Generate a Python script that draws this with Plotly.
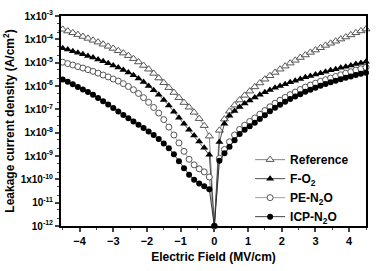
import plotly.graph_objects as go
import numpy as np

field = [-4.5, -4.35, -4.2, -4.05, -3.9, -3.75, -3.6, -3.45, -3.3, -3.15, -3.0, -2.85, -2.7, -2.55, -2.4,
         -2.25, -2.1, -1.95, -1.8, -1.65, -1.5, -1.35, -1.2, -1.05, -0.9, -0.75, -0.6, -0.45, -0.3, -0.15, 0.0,
         0.15, 0.3, 0.45, 0.6, 0.75, 0.9, 1.05, 1.2, 1.35, 1.5, 1.65, 1.8, 1.95, 2.1, 2.25, 2.4, 2.55, 2.7,
         2.85, 3.0, 3.15, 3.3, 3.45, 3.6, 3.75, 3.9, 4.05, 4.2, 4.35, 4.5]

# log10 of leakage current density (A/cm^2)
ref_log = [-3.57, -3.645, -3.72, -3.80, -3.88, -3.96, -4.04, -4.12, -4.21, -4.30, -4.39, -4.49, -4.59, -4.70, -4.83,
           -4.97, -5.12, -5.28, -5.46, -5.66, -5.86, -6.07, -6.28, -6.50, -6.71, -6.91, -7.13, -7.40, -7.70, -8.15, -12.0,
           -7.90, -7.42, -7.08, -6.82, -6.60, -6.40, -6.22, -6.04, -5.87, -5.71, -5.56, -5.42, -5.28, -5.15, -5.02,
           -4.90, -4.78, -4.67, -4.56, -4.46, -4.36, -4.26, -4.17, -4.08, -3.99, -3.90, -3.81, -3.72, -3.64, -3.56]
fo2_log = [-4.38, -4.44, -4.51, -4.57, -4.64, -4.71, -4.78, -4.86, -4.94, -5.03, -5.12, -5.21, -5.31, -5.42, -5.54,
           -5.68, -5.83, -6.00, -6.18, -6.38, -6.60, -6.84, -7.10, -7.36, -7.62, -7.88, -8.12, -8.38, -8.65, -8.95, -12.0,
           -8.40, -7.62, -7.28, -7.07, -6.90, -6.75, -6.62, -6.49, -6.38, -6.27, -6.17, -6.08, -6.00, -5.92, -5.84,
           -5.77, -5.70, -5.63, -5.57, -5.51, -5.45, -5.39, -5.33, -5.28, -5.22, -5.17, -5.12, -5.06, -5.01, -4.96]
pe_log = [-4.98, -5.04, -5.10, -5.17, -5.23, -5.30, -5.37, -5.45, -5.53, -5.61, -5.70, -5.79, -5.90, -6.02, -6.16,
          -6.32, -6.50, -6.70, -6.92, -7.16, -7.44, -7.76, -8.10, -8.44, -8.80, -9.14, -9.38, -9.55, -9.68, -9.90, -12.0,
          -9.10, -8.72, -8.39, -8.10, -7.86, -7.68, -7.52, -7.37, -7.21, -7.05, -6.89, -6.74, -6.61, -6.49, -6.37,
          -6.26, -6.15, -6.05, -5.96, -5.88, -5.80, -5.73, -5.66, -5.59, -5.52, -5.45, -5.39, -5.32, -5.26, -5.20]
icp_log = [-5.72, -5.82, -5.93, -6.04, -6.15, -6.26, -6.38, -6.51, -6.65, -6.79, -6.94, -7.09, -7.24, -7.38, -7.52,
           -7.66, -7.80, -7.95, -8.10, -8.27, -8.46, -8.67, -8.93, -9.22, -9.52, -9.80, -10.02, -10.18, -10.30, -10.42, -12.0,
           -9.20, -8.88, -8.60, -8.32, -8.06, -7.88, -7.72, -7.57, -7.41, -7.25, -7.08, -6.93, -6.80, -6.68, -6.56,
           -6.45, -6.35, -6.25, -6.16, -6.07, -5.99, -5.91, -5.84, -5.77, -5.71, -5.65, -5.59, -5.53, -5.48, -5.43]

names = ["Reference", "F-O<sub>2</sub>", "PE-N<sub>2</sub>O", "ICP-N<sub>2</sub>O"]
y_ticks = [1e-3, 1e-4, 1e-5, 1e-6, 1e-7, 1e-8, 1e-9, 1e-10, 1e-11, 1e-12]
y_text = ["1x10<sup>-3</sup>", "1x10<sup>-4</sup>", "1x10<sup>-5</sup>", "1x10<sup>-6</sup>", "1x10<sup>-7</sup>",
          "1x10<sup>-8</sup>", "1x10<sup>-9</sup>", "1x10<sup>-10</sup>", "10<sup>-11</sup>", "10<sup>-12</sup>"]
x_ticks = [-4, -3, -2, -1, 0, 1, 2, 3, 4]

styles = [
    dict(symbol="triangle-up", size=7, color="white", line=dict(width=1, color="#555555")),
    dict(symbol="triangle-up", size=7, color="black", line=dict(width=0)),
    dict(symbol="circle", size=6, color="white", line=dict(width=1, color="#555555")),
    dict(symbol="circle", size=6, color="black", line=dict(width=0)),
]
line_colors = ["#666666", "#222222", "#888888", "#111111"]

fig = go.Figure()
for nm, lg, st, lc in zip(names, [ref_log, fo2_log, pe_log, icp_log], styles, line_colors):
    fig.add_trace(go.Scatter(
        x=field, y=np.power(10.0, lg), name=nm, mode="lines+markers",
        line=dict(color=lc, width=0.8), marker=st, cliponaxis=False))

font_family = "Arial, Liberation Sans, sans-serif"
fig.update_layout(
    width=381, height=271,
    margin=dict(l=60, r=15, t=9, b=38),
    paper_bgcolor="white", plot_bgcolor="white",
    font=dict(family=font_family, color="black"),
    legend=dict(x=0.62, y=0.385, xanchor="left", yanchor="top",
                bgcolor="rgba(0,0,0,0)", font=dict(size=12, family=font_family, weight="bold"),
                tracegroupgap=0, itemwidth=30),
    showlegend=True,
)
fig.update_xaxes(
    range=[-4.55, 4.5], tickvals=x_ticks, ticks="outside", ticklen=4, tickwidth=1.5,
    showline=True, linewidth=2, linecolor="black", mirror=True, showgrid=False, zeroline=False,
    tickfont=dict(size=11, weight="bold"),
    minor=dict(ticks="outside", ticklen=2, tickwidth=1, dtick=0.5, tick0=0, showgrid=False),
    title=dict(text="Electric Field (MV/cm)", font=dict(size=12, weight="bold"), standoff=6),
)
fig.update_yaxes(
    type="log", range=[-12, -3], tickvals=y_ticks, ticktext=y_text, ticks="outside", ticklen=4, tickwidth=1.5,
    showline=True, linewidth=2, linecolor="black", mirror=True, showgrid=False, zeroline=False,
    tickfont=dict(size=10, weight="bold"),
    minor=dict(ticks="outside", ticklen=2, tickwidth=1, showgrid=False),
    title=dict(text="Leakage current density (A/cm<sup>2</sup>)", font=dict(size=12, weight="bold"), standoff=3),
)
fig.write_html("out.html")
